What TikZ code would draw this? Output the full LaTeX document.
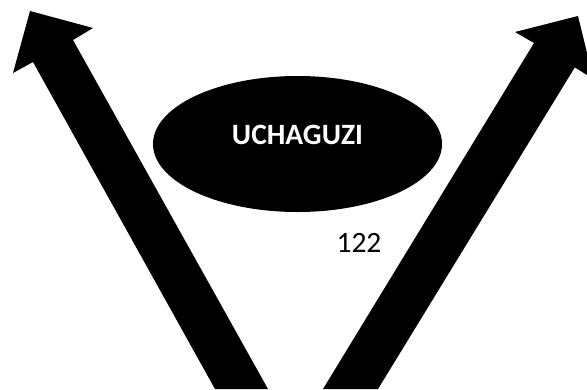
\documentclass[tikz,border=0pt]{standalone}
\usepackage{fontspec}
\setmainfont{Carlito}
\usetikzlibrary{shapes.geometric}
\begin{document}
\begin{tikzpicture}[x=1pt,y=-1pt,
  bigarrow/.style={fill=black,draw=none},
  oval/.style={ellipse,fill=black,draw=none,minimum width=289pt,minimum height=136pt,inner sep=0pt},
  lbl/.style={font=\fontsize{29.5}{34}\selectfont,inner sep=0pt}]
\useasboundingbox (0,0) rectangle (587,389);
% left arrow
\fill[bigarrow] (215,389) -- (33,62) -- (13,73) -- (30,11) -- (93,28) -- (73,40) -- (268,389) -- cycle;
% right arrow
\fill[bigarrow] (323,389) -- (534,43) -- (515,32) -- (578,16) -- (593.4,79) -- (574.8,67.4) -- (378,389) -- cycle;
% ellipse
\node[oval] (e) at (297.5,144) {};
\node[lbl,text=white,font=\fontsize{29.5}{34}\selectfont\bfseries,anchor=base] (t) at (297.5,144) {UCHAGUZI};
\node[lbl,anchor=base] (n) at (359,252) {122};
\end{tikzpicture}
\end{document}
